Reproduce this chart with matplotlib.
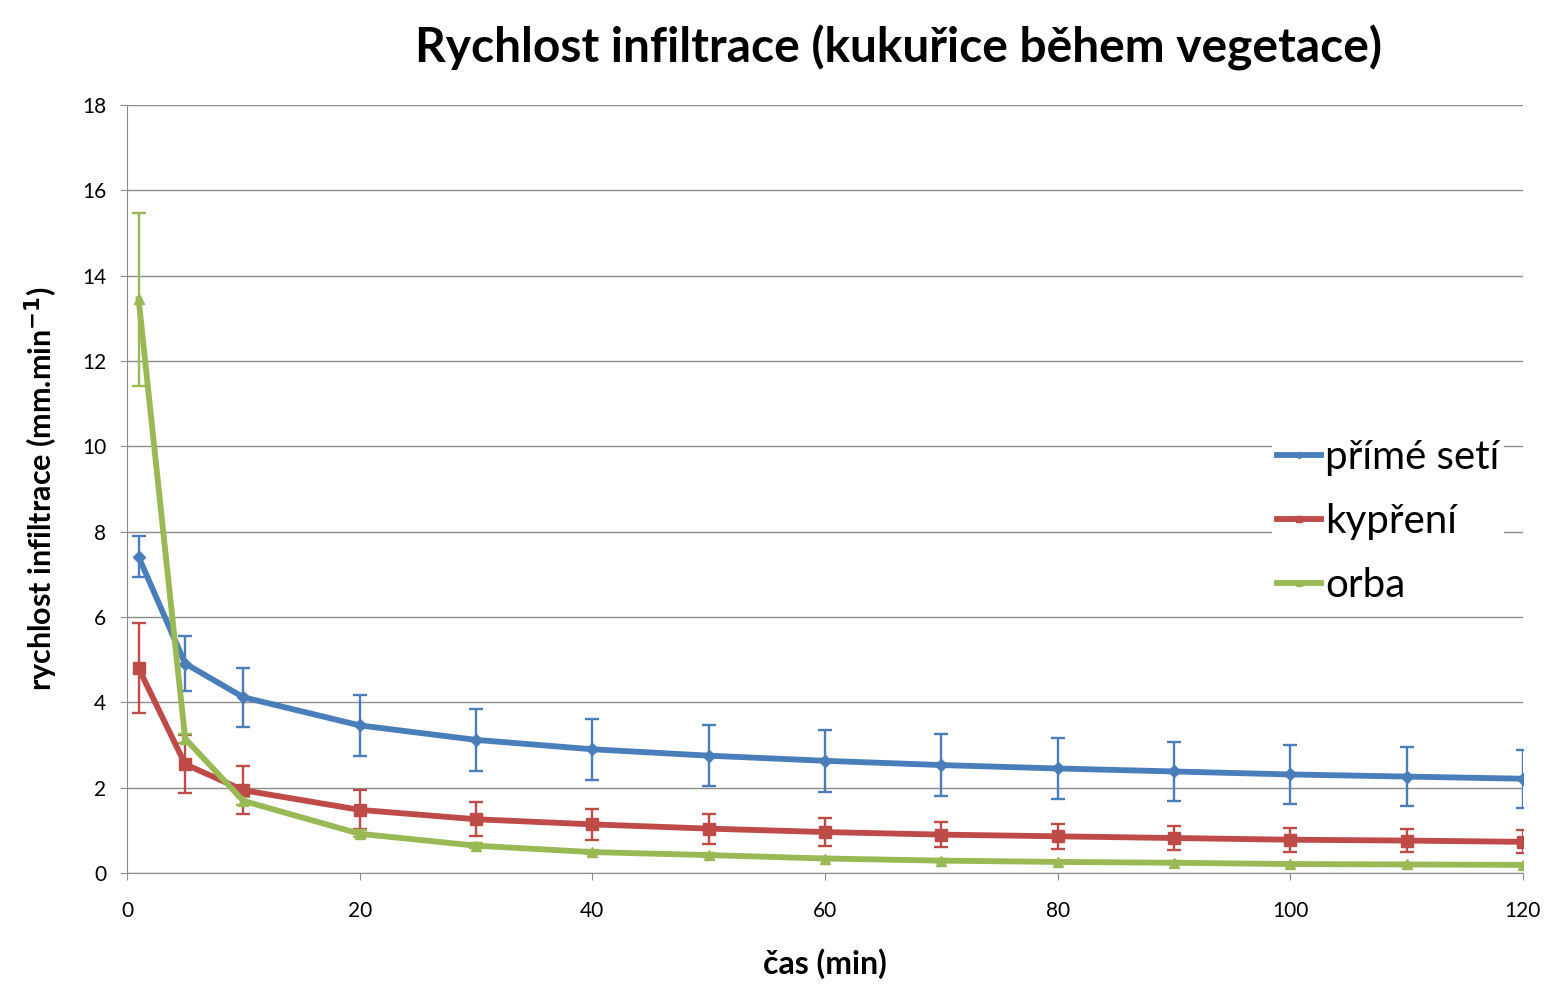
import matplotlib
matplotlib.use('Agg')
import matplotlib.pyplot as plt

plt.rcParams['font.family'] = ['Lato', 'DejaVu Sans']

# time points (min)
cas = [1, 5, 10, 20, 30, 40, 50, 60, 70, 80, 90, 100, 110, 120]

prime_seti = [7.41, 4.91, 4.12, 3.46, 3.12, 2.90, 2.75, 2.63, 2.53, 2.45, 2.38, 2.31, 2.26, 2.21]
prime_seti_err = [0.48, 0.64, 0.69, 0.71, 0.72, 0.72, 0.72, 0.72, 0.72, 0.71, 0.70, 0.70, 0.70, 0.68]

kypreni = [4.80, 2.55, 1.94, 1.48, 1.26, 1.14, 1.04, 0.96, 0.90, 0.86, 0.82, 0.78, 0.76, 0.73]
kypreni_err = [1.05, 0.68, 0.56, 0.46, 0.40, 0.37, 0.35, 0.32, 0.30, 0.30, 0.29, 0.28, 0.27, 0.27]

orba = [13.45, 3.15, 1.69, 0.92, 0.64, 0.49, 0.42, 0.34, 0.29, 0.26, 0.24, 0.21, 0.20, 0.19]
orba_err = [2.03, 0.10, 0.10, 0.08, 0.06, 0.05, 0.05, 0.04, 0.04, 0.03, 0.03, 0.03, 0.03, 0.03]

series = [
    ('přímé setí', prime_seti, prime_seti_err, '#4A7EBB', 'D', 6),
    ('kypření', kypreni, kypreni_err, '#BE4B48', 's', 8.5),
    ('orba', orba, orba_err, '#98B954', '^', 7.5),
]

fig = plt.figure(figsize=(15.58, 10.06), dpi=100)
ax = fig.add_axes([0.0815, 0.1322, 0.896, 0.7634])

for name, vals, errs, col, mk, ms in series:
    ax.errorbar(cas, vals, yerr=errs, fmt='none', ecolor=col, elinewidth=1.7,
                capsize=5, capthick=1.7, zorder=3)
    ax.plot(cas, vals, color=col, lw=4.2, marker=mk, markersize=ms,
            label=name, zorder=4)

ax.set_xlim(0, 120)
ax.set_ylim(0, 18)
ax.set_xticks(range(0, 121, 20))
ax.set_yticks(range(0, 19, 2))
ax.grid(axis='y', color='#8C8C8C', lw=1.0)
ax.set_axisbelow(True)
for s in ['top', 'right']:
    ax.spines[s].set_visible(False)
for s in ['left', 'bottom']:
    ax.spines[s].set_color('#8C8C8C')
ax.tick_params(axis='both', colors='#8C8C8C', labelcolor='black',
               labelsize=15, length=5, direction='out')
ax.tick_params(axis='x', pad=15)
ax.tick_params(axis='y', pad=10)

ax.set_xlabel('čas (min)', fontsize=23, fontweight='bold', labelpad=20)
ax.set_ylabel('rychlost infiltrace (mm.min$^{\\mathbf{-1}}$)', fontsize=22,
              fontweight='bold', labelpad=16)
fig.text(0.577, 0.952, 'Rychlost infiltrace (kukuřice během vegetace)',
         ha='center', va='center', fontsize=34.5, fontweight='bold')

leg = ax.legend(loc='upper left', bbox_to_anchor=(0.8143, 0.582), fontsize=29,
                frameon=True, fancybox=False, handlelength=1.1,
                handletextpad=0.1, labelspacing=0.67, borderpad=0.12,
                borderaxespad=0.2, markerscale=0.55)
leg.get_frame().set_facecolor('white')
leg.get_frame().set_edgecolor('none')
leg.get_frame().set_alpha(1.0)

fig.savefig('out.png', dpi=100)
